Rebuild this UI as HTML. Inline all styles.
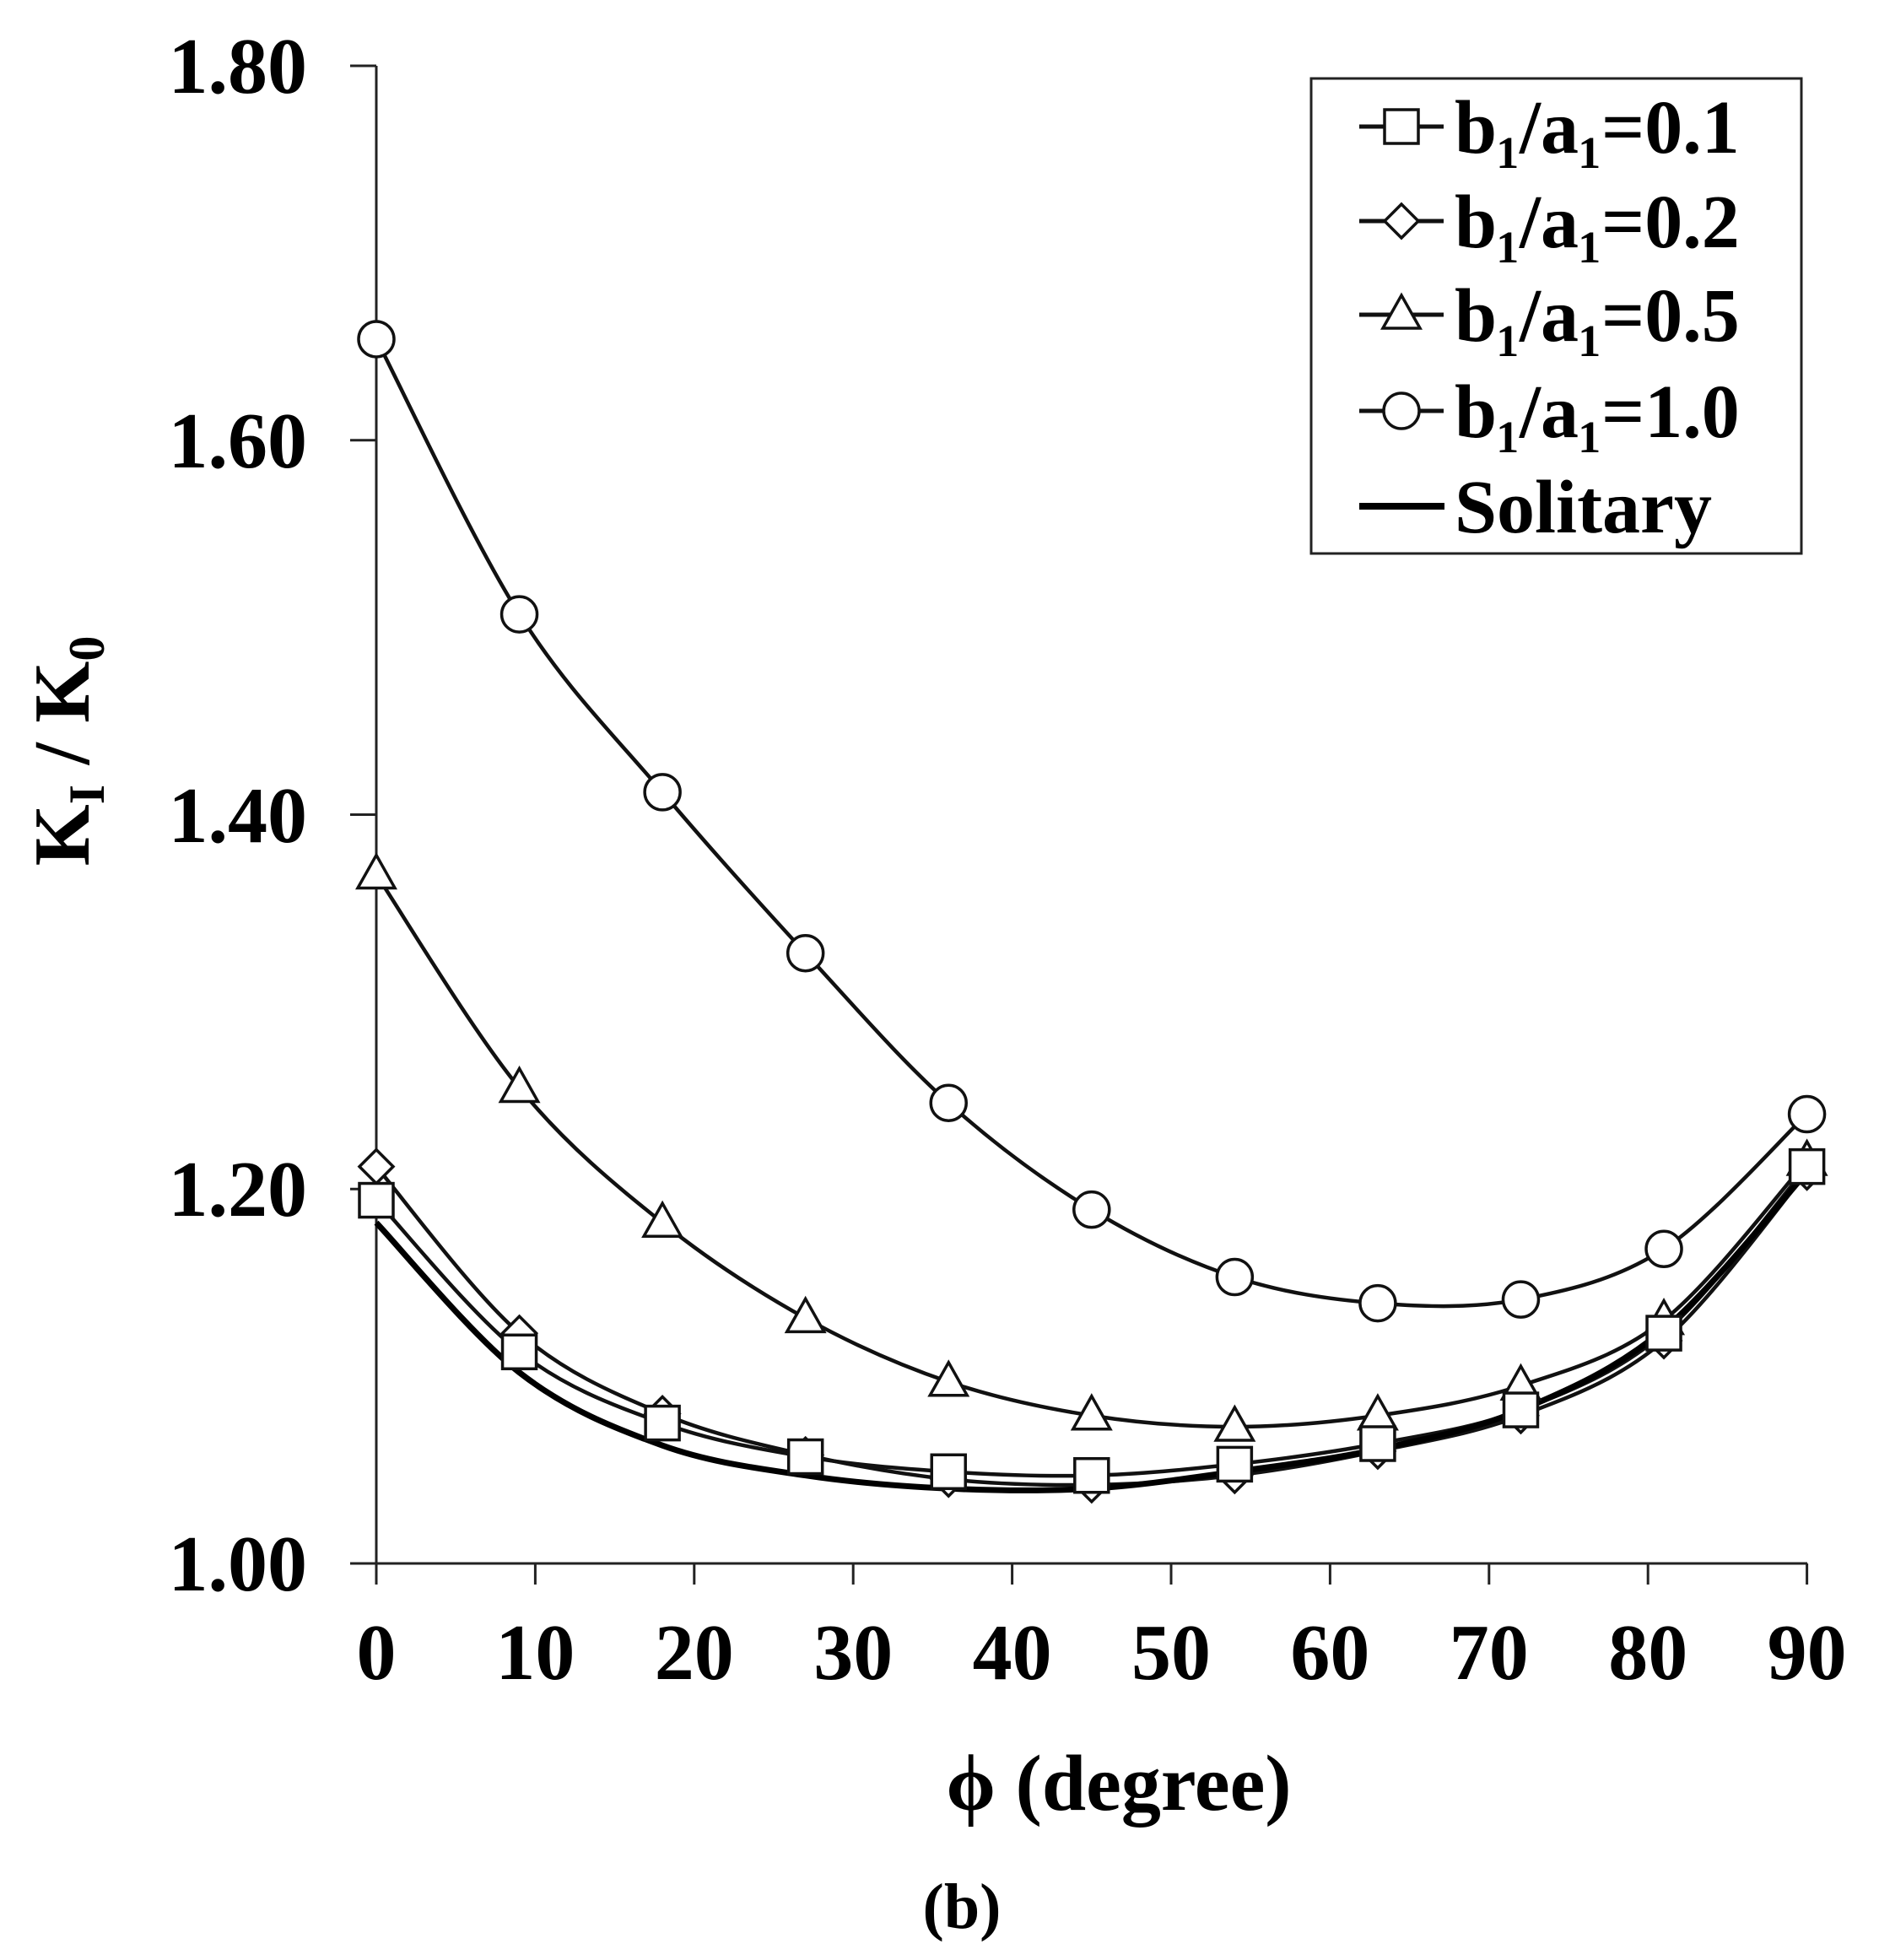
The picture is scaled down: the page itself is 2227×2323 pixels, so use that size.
<!DOCTYPE html>
<html><head><meta charset="utf-8"><style>
html,body{margin:0;padding:0;background:#fff}
svg text{font-family:"Liberation Serif",serif;font-weight:bold;fill:#000}
</style></head><body>
<svg id="s" width="2227" height="2318" viewBox="0 0 2227 2318" xmlns="http://www.w3.org/2000/svg">
<rect width="2227" height="2318" fill="#fff"/>
<g stroke="#222" stroke-width="3" fill="none">
<line x1="446" y1="78" x2="446" y2="1853"/>
<line x1="415" y1="1853" x2="2142" y2="1853"/>
<line x1="415" y1="78" x2="446" y2="78"/>
<line x1="415" y1="521.75" x2="446" y2="521.75"/>
<line x1="415" y1="965.5" x2="446" y2="965.5"/>
<line x1="415" y1="1409.25" x2="446" y2="1409.25"/>
</g>
<g id="xt" stroke="#222" stroke-width="3"></g>
<g font-size="94" text-anchor="end">
<text x="364" y="110">1.80</text>
<text x="364" y="554">1.60</text>
<text x="364" y="998">1.40</text>
<text x="364" y="1441">1.20</text>
<text x="364" y="1885">1.00</text>
</g>
<g id="xl" font-size="94" text-anchor="middle"></g>
<text x="1326" y="2145" font-size="94" text-anchor="middle">ϕ (degree)</text>
<text x="1140" y="2285" font-size="76" text-anchor="middle">(b)</text>
<text transform="translate(105,890) rotate(-90)" font-size="94" text-anchor="middle">K<tspan font-size="60" dy="18">I</tspan><tspan dy="-18"> / K</tspan><tspan font-size="60" dy="18">0</tspan></text>
<g id="series"></g>
<rect x="1554" y="93" width="581" height="563" fill="#fff" stroke="#222" stroke-width="3"/>
<g id="leg"></g>
<g font-size="90">
<text x="1724" y="181">b₁/a₁=0.1</text>
<text x="1724" y="293">b₁/a₁=0.2</text>
<text x="1724" y="404">b₁/a₁=0.5</text>
<text x="1724" y="518">b₁/a₁=1.0</text>
<text x="1724" y="631">Solitary</text>
</g>
</svg>
<script>
var NS="http://www.w3.org/2000/svg";
function X(d){return 446+d*18.84;}function Y(v){return 1853-(v-1)*2218.75;}
function el(t,a,p){var e=document.createElementNS(NS,t);for(var k in a)e.setAttribute(k,a[k]);p.appendChild(e);return e;}
var xt=document.getElementById('xt'),xl=document.getElementById('xl');
for(var d=0;d<=90;d+=10){el('line',{x1:X(d),y1:1853,x2:X(d),y2:1878},xt);var t=el('text',{x:X(d),y:1990},xl);t.textContent=d;}
var data={
sol:[1.182,1.102,1.063,1.047,1.040,1.040,1.049,1.061,1.082,1.125,1.209],
sq:[1.194,1.113,1.075,1.057,1.049,1.047,1.053,1.064,1.082,1.123,1.212],
di:[1.212,1.123,1.080,1.058,1.045,1.042,1.047,1.060,1.079,1.119,1.209],
tr:[1.368,1.254,1.182,1.131,1.097,1.079,1.073,1.079,1.095,1.130,1.215],
ci:[1.654,1.507,1.412,1.326,1.246,1.189,1.153,1.139,1.141,1.168,1.240]};
var g=document.getElementById('series');
function path(vs){var p=vs.map(function(v,i){return[X(i*9),Y(v)];});var s="M"+p[0][0]+","+p[0][1];
for(var i=0;i<p.length-1;i++){var p0=p[i-1]||p[i],p1=p[i],p2=p[i+1],p3=p[i+2]||p2;
s+=" C"+(p1[0]+(p2[0]-p0[0])/6)+","+(p1[1]+(p2[1]-p0[1])/6)+" "+(p2[0]-(p3[0]-p1[0])/6)+","+(p2[1]-(p3[1]-p1[1])/6)+" "+p2[0]+","+p2[1];}return s;}
function marker(type,x,y,par){var a={fill:"#fff",stroke:"#111","stroke-width":3.5};
if(type=='sq'){a.x=x-20;a.y=y-20;a.width=40;a.height=40;el('rect',a,par);}
else if(type=='di'){a.points=[x,y-20,x+20,y,x,y+20,x-20,y].join(' ');el('polygon',a,par);}
else if(type=='tr'){a.points=[x,y-23,x+22,y+16,x-22,y+16].join(' ');el('polygon',a,par);}
else if(type=='ci'){a.cx=x;a.cy=y;a.r=21;el('circle',a,par);}}
['ci','tr','di','sq'].forEach(function(k){el('path',{d:path(data[k]),fill:"none",stroke:"#111","stroke-width":4.5},g);});
el('path',{d:path(data.sol),fill:"none",stroke:"#000","stroke-width":7},g);
['ci','tr','di','sq'].forEach(function(k){data[k].forEach(function(v,i){marker(k,X(i*9),Y(v),g);});});
var lg=document.getElementById('leg');var rows={sq:150,di:262,tr:373,ci:487};
for(var k in rows){el('line',{x1:1611,y1:rows[k],x2:1711,y2:rows[k],stroke:"#111","stroke-width":5},lg);marker(k,1661,rows[k],lg);}
el('line',{x1:1611,y1:600,x2:1712,y2:600,stroke:"#000","stroke-width":8},lg);
</script>
</body></html>
